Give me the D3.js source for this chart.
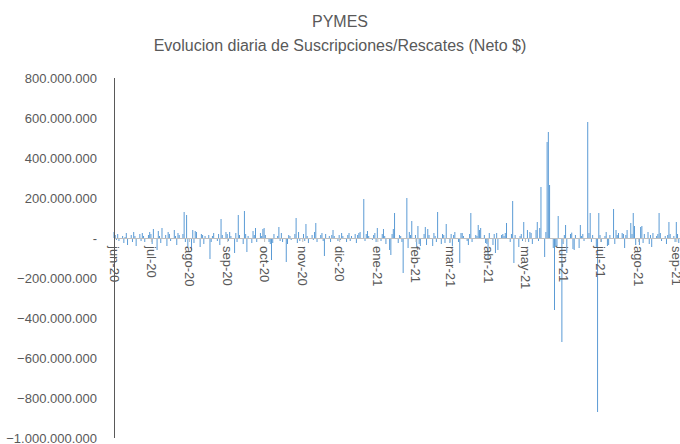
<!DOCTYPE html>
<html>
<head>
<meta charset="utf-8">
<script src="https://cdn.jsdelivr.net/npm/d3@7"></script>
<style>
  body { margin: 0; background: #fff; }
  text { font-family: "Liberation Sans", Arial, sans-serif; fill: #595959; }
</style>
</head>
<body>
<svg></svg>
<script>
// size of our space
var screenWidth = 680,
    screenHeight = 444,
    margin = {"top": 78, "bottom": 6, "left": 114, "right": 0},
    canvasWidth = screenWidth - margin.left - margin.right,
    canvasHeight = screenHeight - margin.top - margin.bottom;

var title = "PYMES",
    subtitle = "Evolucion diaria de Suscripciones/Rescates (Neto $)";

// month of each block of values (business days only)
var months = ["2020-06", "2020-07", "2020-08", "2020-09", "2020-10", "2020-11",
              "2020-12", "2021-01", "2021-02", "2021-03", "2021-04", "2021-05",
              "2021-06", "2021-07", "2021-08", "2021-09"];

var monthLabels = ["jun-20", "jul-20", "ago-20", "sep-20", "oct-20", "nov-20",
                   "dic-20", "ene-21", "feb-21", "mar-21", "abr-21", "may-21",
                   "jun-21", "jul-21", "ago-21", "sep-21"];

// net flow per business day, millions of $
var netFlows = [
  [30, 15, -10, 20, -15, 10, -25, 5, 25, -35, 15, -20, 30, 10, -40, 20, -15, 25, 10, -20, 15, 30],
  [20, -30, 45, -60, 35, 10, -25, 50, 15, -40, 30, 20, -15, 40, 10, -35, 25, 15, 20, 130, -20, 115, -45],
  [-60, 40, -25, 35, 30, -45, 20, 15, -30, 10, 15, -105, -20, 10, 25, -15, 20, -35, 95, 15, 30],
  [20, -15, 30, 10, -75, 25, -20, 115, 15, -30, 135, 20, -70, 10, -25, 35, 15, 50, -20, 25, 10, 45],
  [50, 15, -20, -30, -110, -25, 20, 10, 55, -15, 25, -20, -120, -30, 15, 10, -10, 20, 100, -25, 30, -15],
  [20, -15, 70, 10, -25, 15, -10, 30, 75, -20, 15, 25, -15, -90, 20, 10, -20, 15, 40, 10, -15],
  [15, -10, 25, 10, -20, 15, 25, -15, 10, 20, -25, 15, 25, 30, 195, -15, 20, 35, 10, -10, 15, 25, -20],
  [50, -15, 20, 45, 10, -30, -60, -85, 20, 45, 125, -25, 15, 10, -20, -175, 200, -50, 30, 15, 85],
  [15, -50, 60, -30, -40, 20, 55, -35, 45, 15, -40, 25, 10, -20, 130, -30, 20, 15, -25, 70],
  [-25, 20, -40, 15, 30, -20, -125, 25, 25, 10, -15, -35, 20, 125, -20, 15, 10, 65, 40, 50, 15, -25, -30],
  [-110, 25, -35, 20, -75, 25, -60, 15, 20, 10, 25, 75, -20, 20, 185, -125, 15, -45, 10, 20, -15, 80],
  [40, -20, 30, 25, -30, 40, 80, -15, 50, 255, -95, 30, 480, 530, 265, -50, -360, -45, -40, 110, -520],
  [-30, 15, 65, -75, 20, 27, -55, -60, 15, -50, 65, 10, 20, -15, 580, 25, 125, -20, 15, -45, -870, 125],
  [15, -20, 10, 30, -40, -35, 15, 145, -30, 40, 15, 25, 25, 20, -50, 15, 40, 75, 20, 125, 60, -35],
  [-35, 55, 60, -25, 20, 30, -30, 15, -45, 25, 10, 20, 125, 25, -15, 10, -30, 15, 80, 20, 10, -20],
  [80, 20, -25]
];

var yTicks = [800e6, 600e6, 400e6, 200e6, 0, -200e6, -400e6, -600e6, -800e6, -1000e6];

var parseMonth = d3.timeParse("%Y-%m");

// pair each value with its business day
var data = [];
months.forEach(function(m, i) {
  var start = parseMonth(m),
      days = d3.timeDay.range(start, d3.timeMonth.offset(start, 1))
               .filter(function(d) { return d.getDay() % 6 !== 0; });
  netFlows[i].forEach(function(v, j) {
    data.push({"date": days[j], "value": v * 1e6});
  });
});

var xScale = d3.scaleTime()
               .domain([new Date(2020, 5, 1), new Date(2021, 8, 4)])
               .range([0, canvasWidth]),
    xMap = function(d) { return xScale(d.date); };

var yScale = d3.scaleLinear()
               .domain([-1000e6, 800e6])
               .range([canvasHeight, 0]);

var fmt = function(v) {
  if (v === 0) return "-";
  return d3.format(",")(v).replace(/,/g, ".");
};

var svg = d3.select("svg")
            .attr("width", screenWidth)
            .attr("height", screenHeight);

svg.append("text")
   .attr("x", 340).attr("y", 27)
   .attr("text-anchor", "middle")
   .style("font-size", "16px")
   .text(title);

svg.append("text")
   .attr("x", 340).attr("y", 51)
   .attr("text-anchor", "middle")
   .style("font-size", "16px")
   .text(subtitle);

var g = svg.append("g")
           .attr("transform", "translate(" + margin.left + "," + margin.top + ")");

// y axis
var yAxis = d3.axisLeft(yScale)
              .tickValues(yTicks)
              .tickFormat(fmt)
              .tickSize(0)
              .tickPadding(17);

var yG = g.append("g").attr("class", "y axis").call(yAxis);
yG.select(".domain").remove();
yG.selectAll("text").style("font-size", "13px").style("fill", "#595959");

// bars
g.selectAll(".bar")
 .data(data)
 .enter().append("rect")
 .attr("class", "bar")
 .attr("x", function(d) { return xMap(d) - 0.5; })
 .attr("width", 1)
 .attr("y", function(d) { return yScale(Math.max(0, d.value)); })
 .attr("height", function(d) { return Math.abs(yScale(d.value) - yScale(0)); })
 .attr("fill", "#5B9BD5");

// x axis along zero
var xAxis = d3.axisBottom(xScale)
              .ticks(d3.timeMonth.every(1))
              .tickFormat(function(d, i) { return monthLabels[i]; })
              .tickSize(4)
              .tickSizeOuter(0)
              .tickPadding(4);

var xG = g.append("g")
          .attr("class", "x axis")
          .attr("transform", "translate(0," + yScale(0) + ")")
          .call(xAxis);
xG.select(".domain").attr("stroke", "#BFBFBF");
xG.selectAll(".tick line").attr("stroke", "#BFBFBF");
xG.selectAll(".tick text")
  .style("font-size", "13px")
  .style("fill", "#595959")
  .attr("text-anchor", "start")
  .attr("transform", "rotate(90)")
  .attr("x", 8)
  .attr("y", 0)
  .attr("dy", "0.35em");

// vertical axis line
g.append("line")
 .attr("x1", 0.5).attr("x2", 0.5)
 .attr("y1", 0).attr("y2", canvasHeight)
 .attr("stroke", "#595959");
</script>
</body>
</html>
